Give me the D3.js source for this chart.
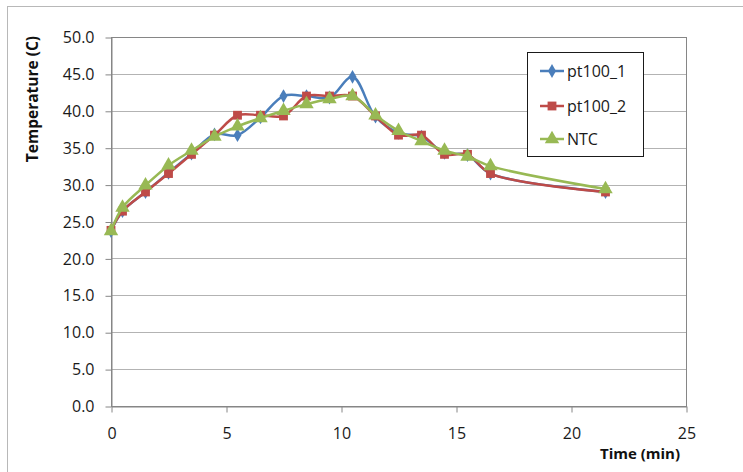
<!DOCTYPE html>
<html><head><meta charset="utf-8">
<script src="https://cdn.jsdelivr.net/npm/d3@7"></script>
<style>
html,body{margin:0;padding:0;background:#fff;}
svg{display:block;font-family:"Open Sans",sans-serif;}
</style></head>
<body>
<svg id="c" width="743" height="472"></svg>
<script>
const times = [0, 0.5, 1.5, 2.5, 3.5, 4.5, 5.5, 6.5, 7.5, 8.5, 9.5, 10.5, 11.5, 12.5, 13.5, 14.5, 15.5, 16.5, 21.5];
const pt100_1 = [23.7, 26.4, 29.0, 31.6, 34.2, 36.8, 36.7, 39.1, 42.0, 42.0, 41.8, 44.6, 39.2, 37.0, 36.5, 34.3, 34.0, 31.5, 29.0];
const pt100_2 = [23.8, 26.4, 29.0, 31.5, 34.1, 36.7, 39.4, 39.4, 39.3, 42.0, 42.0, 42.0, 39.3, 36.7, 36.7, 34.1, 34.1, 31.5, 29.0];
const ntc     = [23.7, 26.9, 29.9, 32.6, 34.6, 36.5, 37.9, 39.0, 40.0, 40.9, 41.6, 42.0, 39.4, 37.3, 35.9, 34.6, 33.8, 32.5, 29.4];
const seriesNames = ["pt100_1", "pt100_2", "NTC"];
const seriesColors = ["#4A7EBB", "#BE4B48", "#98B954"];
const xTicks = [0, 5, 10, 15, 20, 25];
const yTicks = [0, 5, 10, 15, 20, 25, 30, 35, 40, 45, 50];

const svg = d3.select("#c");
const L = 111, R = 686, T = 37, B = 406;
const x = d3.scaleLinear().domain([0, 25]).range([L, R]);
const y = d3.scaleLinear().domain([0, 50]).range([B, T]);

// outer chart frame
svg.append("rect").attr("x", 7.5).attr("y", 6.5).attr("width", 800).attr("height", 800)
  .attr("fill", "none").attr("stroke", "#b8b8b8").attr("stroke-width", 1);

// gridlines
svg.append("g").selectAll("line").data(yTicks.filter(d => d > 0 && d < 50)).join("line")
  .attr("x1", L).attr("x2", R).attr("y1", d => Math.round(y(d)) + 0.5).attr("y2", d => Math.round(y(d)) + 0.5)
  .attr("stroke", "#b3b3b3").attr("stroke-width", 1);

// plot border
svg.append("rect").attr("x", L + 0.5).attr("y", T + 0.5).attr("width", R - L).attr("height", B - T)
  .attr("fill", "none").attr("stroke", "#868686").attr("stroke-width", 1);

// y axis
const yAxis = svg.append("g").attr("transform", `translate(${L + 0.5},0.5)`)
  .call(d3.axisLeft(y).tickValues(yTicks).tickFormat(d3.format(".1f")).tickSizeInner(6).tickSizeOuter(0).tickPadding(11));
yAxis.select(".domain").attr("stroke", "#868686");
yAxis.selectAll(".tick line").attr("stroke", "#868686");
yAxis.selectAll("text").attr("font-size", 16).attr("fill", "#1a1a1a").attr("font-family", "Open Sans");

// x axis
const xAxis = svg.append("g").attr("transform", `translate(0.5,${B + 0.5})`)
  .call(d3.axisBottom(x).tickValues(xTicks).tickFormat(d3.format("d")).tickSizeInner(6).tickSizeOuter(0).tickPadding(15));
xAxis.select(".domain").attr("stroke", "#868686");
xAxis.selectAll(".tick line").attr("stroke", "#868686");
xAxis.selectAll("text").attr("font-size", 16).attr("fill", "#1a1a1a").attr("font-family", "Open Sans");

// axis titles
svg.append("text").attr("transform", "translate(38,99) rotate(-90)").attr("text-anchor", "middle")
  .attr("font-size", 15.5).attr("font-weight", "bold").attr("fill", "#111").text("Temperature (C)");
svg.append("text").attr("x", 640).attr("y", 459).attr("text-anchor", "middle")
  .attr("font-size", 15).attr("font-weight", "bold").attr("fill", "#111").text("Time (min)");

// series
const data = [pt100_1, pt100_2, ntc];
const line = d3.line().x(d => x(d[0])).y(d => y(d[1])).curve(d3.curveCatmullRom.alpha(0.5));
const symbols = [d3.symbolDiamond, d3.symbolSquare, d3.symbolTriangle];
const symSizes = [55, 78, 90];

data.forEach((vals, i) => {
  const pts = times.map((t, j) => [t, vals[j]]);
  const g = svg.append("g");
  g.append("path").attr("d", line(pts)).attr("fill", "none").attr("stroke", seriesColors[i]).attr("stroke-width", 2.5);
  g.selectAll("path.m").data(pts).join("path").attr("class", "m")
    .attr("transform", d => `translate(${x(d[0])},${y(d[1])})`)
    .attr("d", d3.symbol().type(symbols[i]).size(symSizes[i]))
    .attr("fill", seriesColors[i]);
});

// legend
const lg = svg.append("g");
lg.append("rect").attr("x", 527.5).attr("y", 52.5).attr("width", 116).attr("height", 104)
  .attr("fill", "#fff").attr("stroke", "#1a1a1a").attr("stroke-width", 1);
const legY = [71, 106, 139];
seriesNames.forEach((n, i) => {
  lg.append("line").attr("x1", 540).attr("x2", 564).attr("y1", legY[i]).attr("y2", legY[i])
    .attr("stroke", seriesColors[i]).attr("stroke-width", 2.5);
  lg.append("path").attr("transform", `translate(552,${legY[i]})`)
    .attr("d", d3.symbol().type(symbols[i]).size(symSizes[i])).attr("fill", seriesColors[i]);
  lg.append("text").attr("x", 567).attr("y", legY[i]).attr("dy", "0.35em")
    .attr("font-size", 16).attr("fill", "#1a1a1a").text(n);
});
</script>
</body></html>
